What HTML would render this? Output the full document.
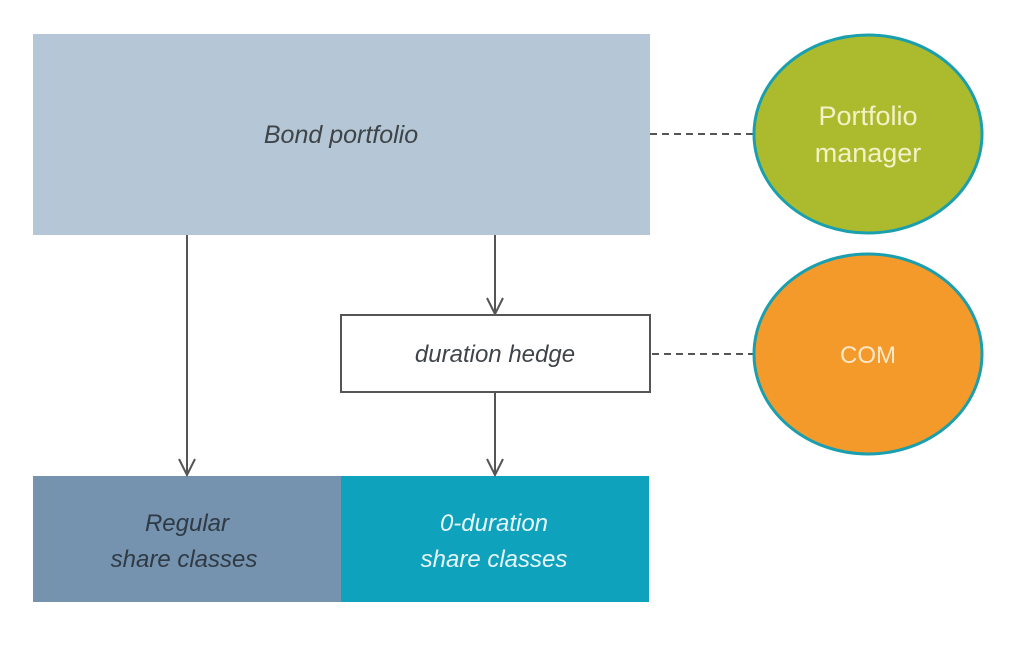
<!DOCTYPE html>
<html><head><style>
body{margin:0;background:#fff;}
svg text{font-family:"Liberation Sans",sans-serif;}
</style></head><body>
<svg width="1024" height="644" viewBox="0 0 1024 644" xmlns="http://www.w3.org/2000/svg">
<rect width="1024" height="644" fill="#fff"/>
<rect x="33" y="34" width="617" height="201" fill="#b5c7d6"/>
<text x="341" y="143" text-anchor="middle" font-size="25" font-style="italic" fill="#3f4448">Bond portfolio</text>
<rect x="341" y="315" width="309" height="77" fill="#fff" stroke="#555" stroke-width="2"/>
<text x="495" y="362" text-anchor="middle" font-size="24" font-style="italic" fill="#3f4448">duration hedge</text>
<rect x="33" y="476" width="308" height="126" fill="#7592ae"/>
<rect x="341" y="476" width="308" height="126" fill="#0fa2bd"/>
<text x="187" y="531" text-anchor="middle" font-size="24" font-style="italic" fill="#2f3a44">Regular</text>
<text x="184" y="567" text-anchor="middle" font-size="24" font-style="italic" fill="#2f3a44">share classes</text>
<text x="494" y="531" text-anchor="middle" font-size="24" font-style="italic" fill="#e8f6f8">0-duration</text>
<text x="494" y="567" text-anchor="middle" font-size="24" font-style="italic" fill="#e8f6f8">share classes</text>
<g stroke="#555" stroke-width="2" fill="none">
<line x1="187" y1="235" x2="187" y2="475"/>
<polyline points="179,459 187,475 195,459"/>
<line x1="495" y1="235" x2="495" y2="314"/>
<polyline points="487,298 495,314 503,298"/>
<line x1="495" y1="392" x2="495" y2="475"/>
<polyline points="487,459 495,475 503,459"/>
<line x1="650" y1="134" x2="753" y2="134" stroke-dasharray="7,5"/>
<line x1="652" y1="354" x2="753" y2="354" stroke-dasharray="7,5"/>
</g>
<ellipse cx="868" cy="134" rx="114" ry="99" fill="#acbb2e" stroke="#1a9fae" stroke-width="3"/>
<ellipse cx="868" cy="354" rx="114" ry="100" fill="#f39a2b" stroke="#1a9fae" stroke-width="3"/>
<text x="868" y="125" text-anchor="middle" font-size="27" fill="#f3f1c8">Portfolio</text>
<text x="868" y="162" text-anchor="middle" font-size="27" fill="#f3f1c8">manager</text>
<text x="868" y="363" text-anchor="middle" font-size="24" fill="#fde8c8">COM</text>
</svg>
</body></html>
